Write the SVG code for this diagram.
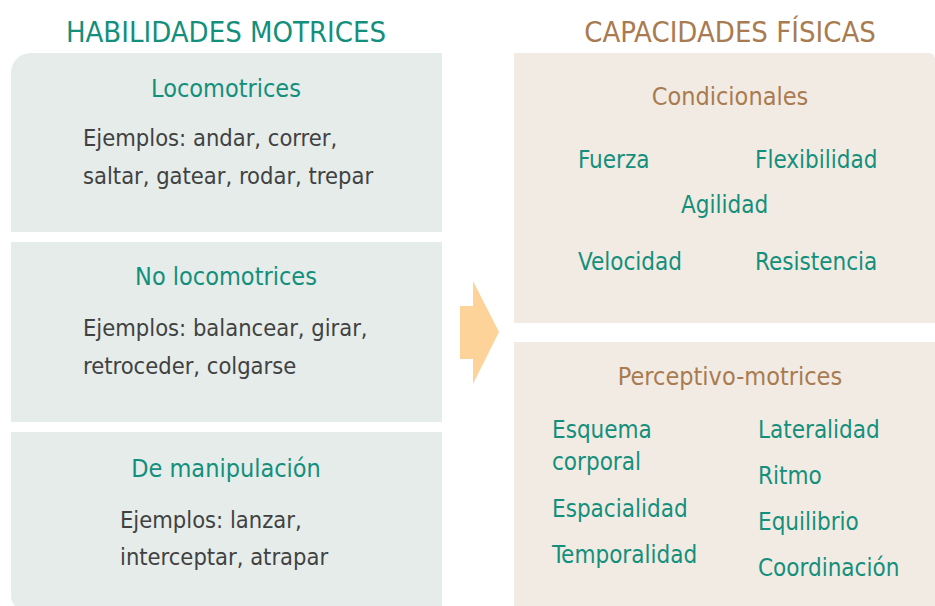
<svg xmlns="http://www.w3.org/2000/svg" width="935" height="606" viewBox="0 0 935 606">
<style>
text{font-family:"Liberation Sans Narrow","DejaVu Sans Condensed","Liberation Sans",sans-serif}
.title{font-size:29px}
.teal{fill:#138f7c}
.brown{fill:#a97b50}
.gray{fill:#414141}
.head{font-size:25px;text-anchor:middle}
.body{font-size:23.5px}
.item{font-size:24px;fill:#138f7c}
.lbox{fill:#e5ecea}
.rbox{fill:#f2ebe3}
</style>
<rect width="935" height="606" fill="#ffffff"/>
<text class="title teal" x="226" y="42" text-anchor="middle">HABILIDADES MOTRICES</text>
<text class="title brown" x="730" y="42" text-anchor="middle">CAPACIDADES FÍSICAS</text>

<g id="locomotrices">
<path class="lbox" d="M31,53 H442 V232 H11 V73 A20,20 0 0 1 31,53 Z"/>
<text class="head teal" x="226" y="97">Locomotrices</text>
<text class="body gray" x="83" y="146">Ejemplos: andar, correr,</text>
<text class="body gray" x="83" y="184">saltar, gatear, rodar, trepar</text>
</g>
<g id="no-locomotrices">
<rect class="lbox" x="11" y="242" width="431" height="180"/>
<text class="head teal" x="226" y="285">No locomotrices</text>
<text class="body gray" x="83" y="336">Ejemplos: balancear, girar,</text>
<text class="body gray" x="83" y="374">retroceder, colgarse</text>
</g>
<g id="manipulacion">
<path class="lbox" d="M11,432 H442 V610 H25 A14,14 0 0 1 11,596 Z"/>
<text class="head teal" x="226" y="477">De manipulación</text>
<text class="body gray" x="120" y="528">Ejemplos: lanzar,</text>
<text class="body gray" x="120" y="565">interceptar, atrapar</text>
</g>

<g id="connectors">
<path d="M460,306 H473 V281 L499,332 L473,384 V359 H460 Z" fill="#fed39a"/>
</g>

<g id="condicionales">
<path class="rbox" d="M514,53 H929 A6,6 0 0 1 935,59 V323 H514 Z"/>
<text class="head brown" x="730" y="105">Condicionales</text>
<text class="item" x="578" y="168">Fuerza</text>
<text class="item" x="755" y="168">Flexibilidad</text>
<text class="item" x="681" y="213">Agilidad</text>
<text class="item" x="578" y="270">Velocidad</text>
<text class="item" x="755" y="270">Resistencia</text>
</g>
<g id="perceptivo-motrices">
<rect class="rbox" x="514" y="342" width="421" height="264"/>
<text class="head brown" x="730" y="385">Perceptivo-motrices</text>
<text class="item" x="552" y="438">Esquema</text>
<text class="item" x="552" y="470">corporal</text>
<text class="item" x="552" y="517">Espacialidad</text>
<text class="item" x="552" y="563">Temporalidad</text>
<text class="item" x="758" y="438">Lateralidad</text>
<text class="item" x="758" y="484">Ritmo</text>
<text class="item" x="758" y="530">Equilibrio</text>
<text class="item" x="758" y="576">Coordinación</text>
</g>
</svg>
